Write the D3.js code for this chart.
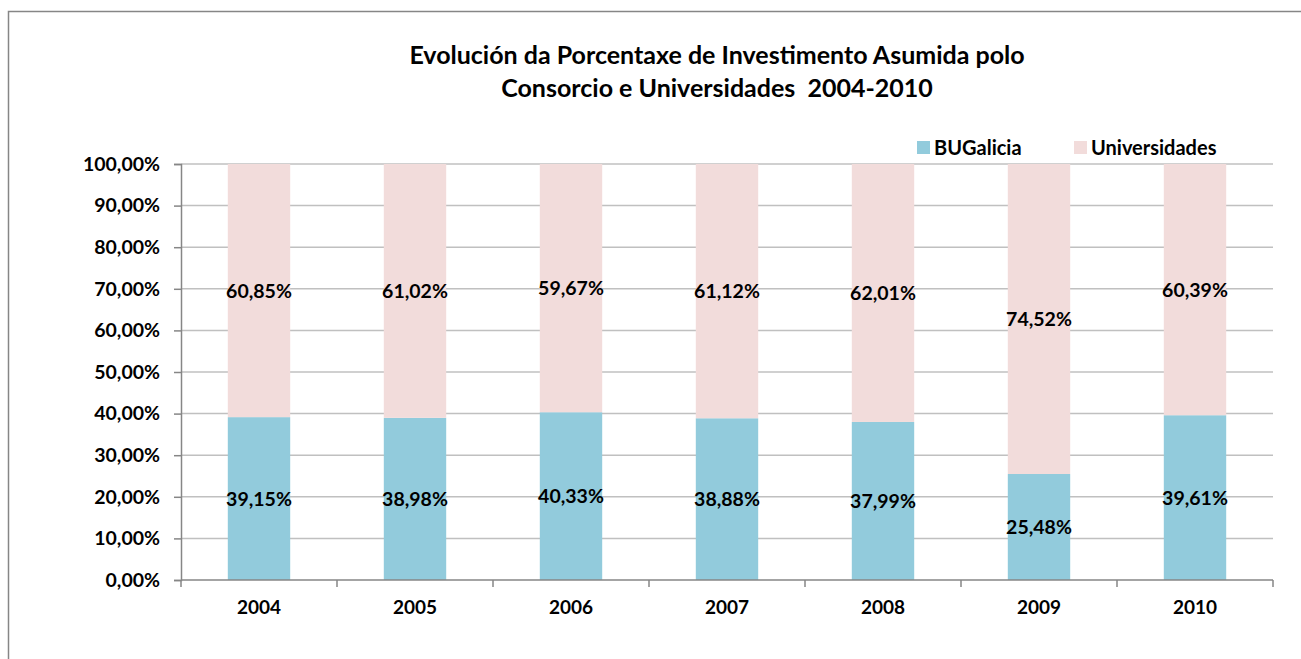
<!DOCTYPE html>
<html>
<head>
<meta charset="utf-8">
<script src="https://cdn.jsdelivr.net/npm/d3@7"></script>
<style>
  body { margin: 0; background: #fff; overflow: hidden; }
  svg { display: block; }
  svg text { font-family: Lato, "Liberation Sans", sans-serif; font-weight: bold; fill: #000; }
</style>
</head>
<body>
<svg id="chart" width="1301" height="659"></svg>
<script>
const years = ["2004", "2005", "2006", "2007", "2008", "2009", "2010"];
const buGalicia = [39.15, 38.98, 40.33, 38.88, 37.99, 25.48, 39.61];
const universidades = [60.85, 61.02, 59.67, 61.12, 62.01, 74.52, 60.39];
const yTicks = [0, 10, 20, 30, 40, 50, 60, 70, 80, 90, 100];
const seriesNames = ["BUGalicia", "Universidades"];
const colors = ["#92cbdc", "#f2dcdb"];
const titleLines = ["Evolución da Porcentaxe de Investimento Asumida polo", "Consorcio e Universidades  2004-2010"];

const svg = d3.select("#chart");
const fmt = v => v.toFixed(2).replace(".", ",") + "%";

// outer frame: only left and top edges are inside the picture
svg.append("path")
    .attr("d", "M8.5,659V11.5H1301")
    .attr("fill", "none").attr("stroke", "#868686").attr("stroke-width", 1.5);

const plot = {left: 181, right: 1273, top: 164, bottom: 580};

const x = d3.scaleBand().domain(years).range([plot.left, plot.right]).paddingInner(0.6).paddingOuter(0.3);
const xb = d3.scaleBand().domain(years).range([plot.left, plot.right]);
const y = d3.scaleLinear().domain([0, 100]).range([plot.bottom, plot.top]);

// gridlines
svg.append("g").selectAll("line").data(yTicks.slice(1)).join("line")
    .attr("x1", plot.left).attr("x2", plot.right)
    .attr("y1", d => y(d)).attr("y2", d => y(d))
    .attr("stroke", "#c0c0c0").attr("stroke-width", 1.5);

// stacked bars
const stack = years.map((yr, i) => ({yr, a: buGalicia[i], b: universidades[i]}));
const g = svg.append("g");
g.selectAll(".bu").data(stack).join("rect")
    .attr("x", d => x(d.yr)).attr("width", x.bandwidth())
    .attr("y", d => y(d.a)).attr("height", d => y(0) - y(d.a))
    .attr("fill", colors[0]);
g.selectAll(".un").data(stack).join("rect")
    .attr("x", d => x(d.yr)).attr("width", x.bandwidth())
    .attr("y", d => y(d.a + d.b)).attr("height", d => y(d.a) - y(d.a + d.b))
    .attr("fill", colors[1]);

// value labels
const lab = svg.append("g").attr("font-size", 19.5).attr("text-anchor", "middle");
lab.selectAll(".lb").data(stack).join("text")
    .attr("x", d => x(d.yr) + x.bandwidth() / 2)
    .attr("y", d => y(d.a / 2)).attr("dy", "0.36em")
    .text(d => fmt(d.a));
lab.selectAll(".lu").data(stack).join("text")
    .attr("x", d => x(d.yr) + x.bandwidth() / 2)
    .attr("y", d => y(d.a + d.b / 2)).attr("dy", "0.36em")
    .text(d => fmt(d.b));

// y axis
const yAxis = svg.append("g").attr("transform", `translate(${plot.left},0)`)
    .call(d3.axisLeft(y).tickValues(yTicks).tickSize(7).tickPadding(14).tickFormat(d => fmt(d)));
yAxis.select(".domain").attr("stroke", "#868686").attr("stroke-width", 1.5);
yAxis.selectAll(".tick line").attr("stroke", "#868686").attr("stroke-width", 1.5);
yAxis.selectAll("text").attr("font-size", 19.5).style("font-family", "Lato").style("font-weight", "bold");

// x axis
const xAxis = svg.append("g").attr("transform", `translate(0,${plot.bottom})`);
xAxis.append("line").attr("x1", plot.left).attr("x2", plot.right).attr("stroke", "#868686").attr("stroke-width", 1.5);
xAxis.selectAll(".xt").data(years.concat(["end"])).join("line")
    .attr("x1", (d, i) => i < years.length ? xb(d) : plot.right)
    .attr("x2", (d, i) => i < years.length ? xb(d) : plot.right)
    .attr("y1", 0).attr("y2", 7)
    .attr("stroke", "#868686").attr("stroke-width", 1.5);
xAxis.selectAll("text").data(years).join("text")
    .attr("x", d => xb(d) + xb.bandwidth() / 2)
    .attr("y", 34).attr("text-anchor", "middle").attr("font-size", 19)
    .text(d => d);

// title
svg.append("g").selectAll("text").data(titleLines).join("text")
    .attr("x", 717).attr("y", (d, i) => 64 + i * 33)
    .attr("text-anchor", "middle").attr("font-size", 25)
    .attr("xml:space", "preserve").style("white-space", "pre")
    .text(d => d);

// legend
const leg = svg.append("g");
const legX = [917, 1074];
seriesNames.forEach((n, i) => {
    leg.append("rect").attr("x", legX[i]).attr("y", 141).attr("width", 13).attr("height", 13).attr("fill", colors[i]);
    leg.append("text").attr("x", legX[i] + 17).attr("y", 154.5).attr("font-size", 20).text(n);
});
</script>
</body>
</html>
